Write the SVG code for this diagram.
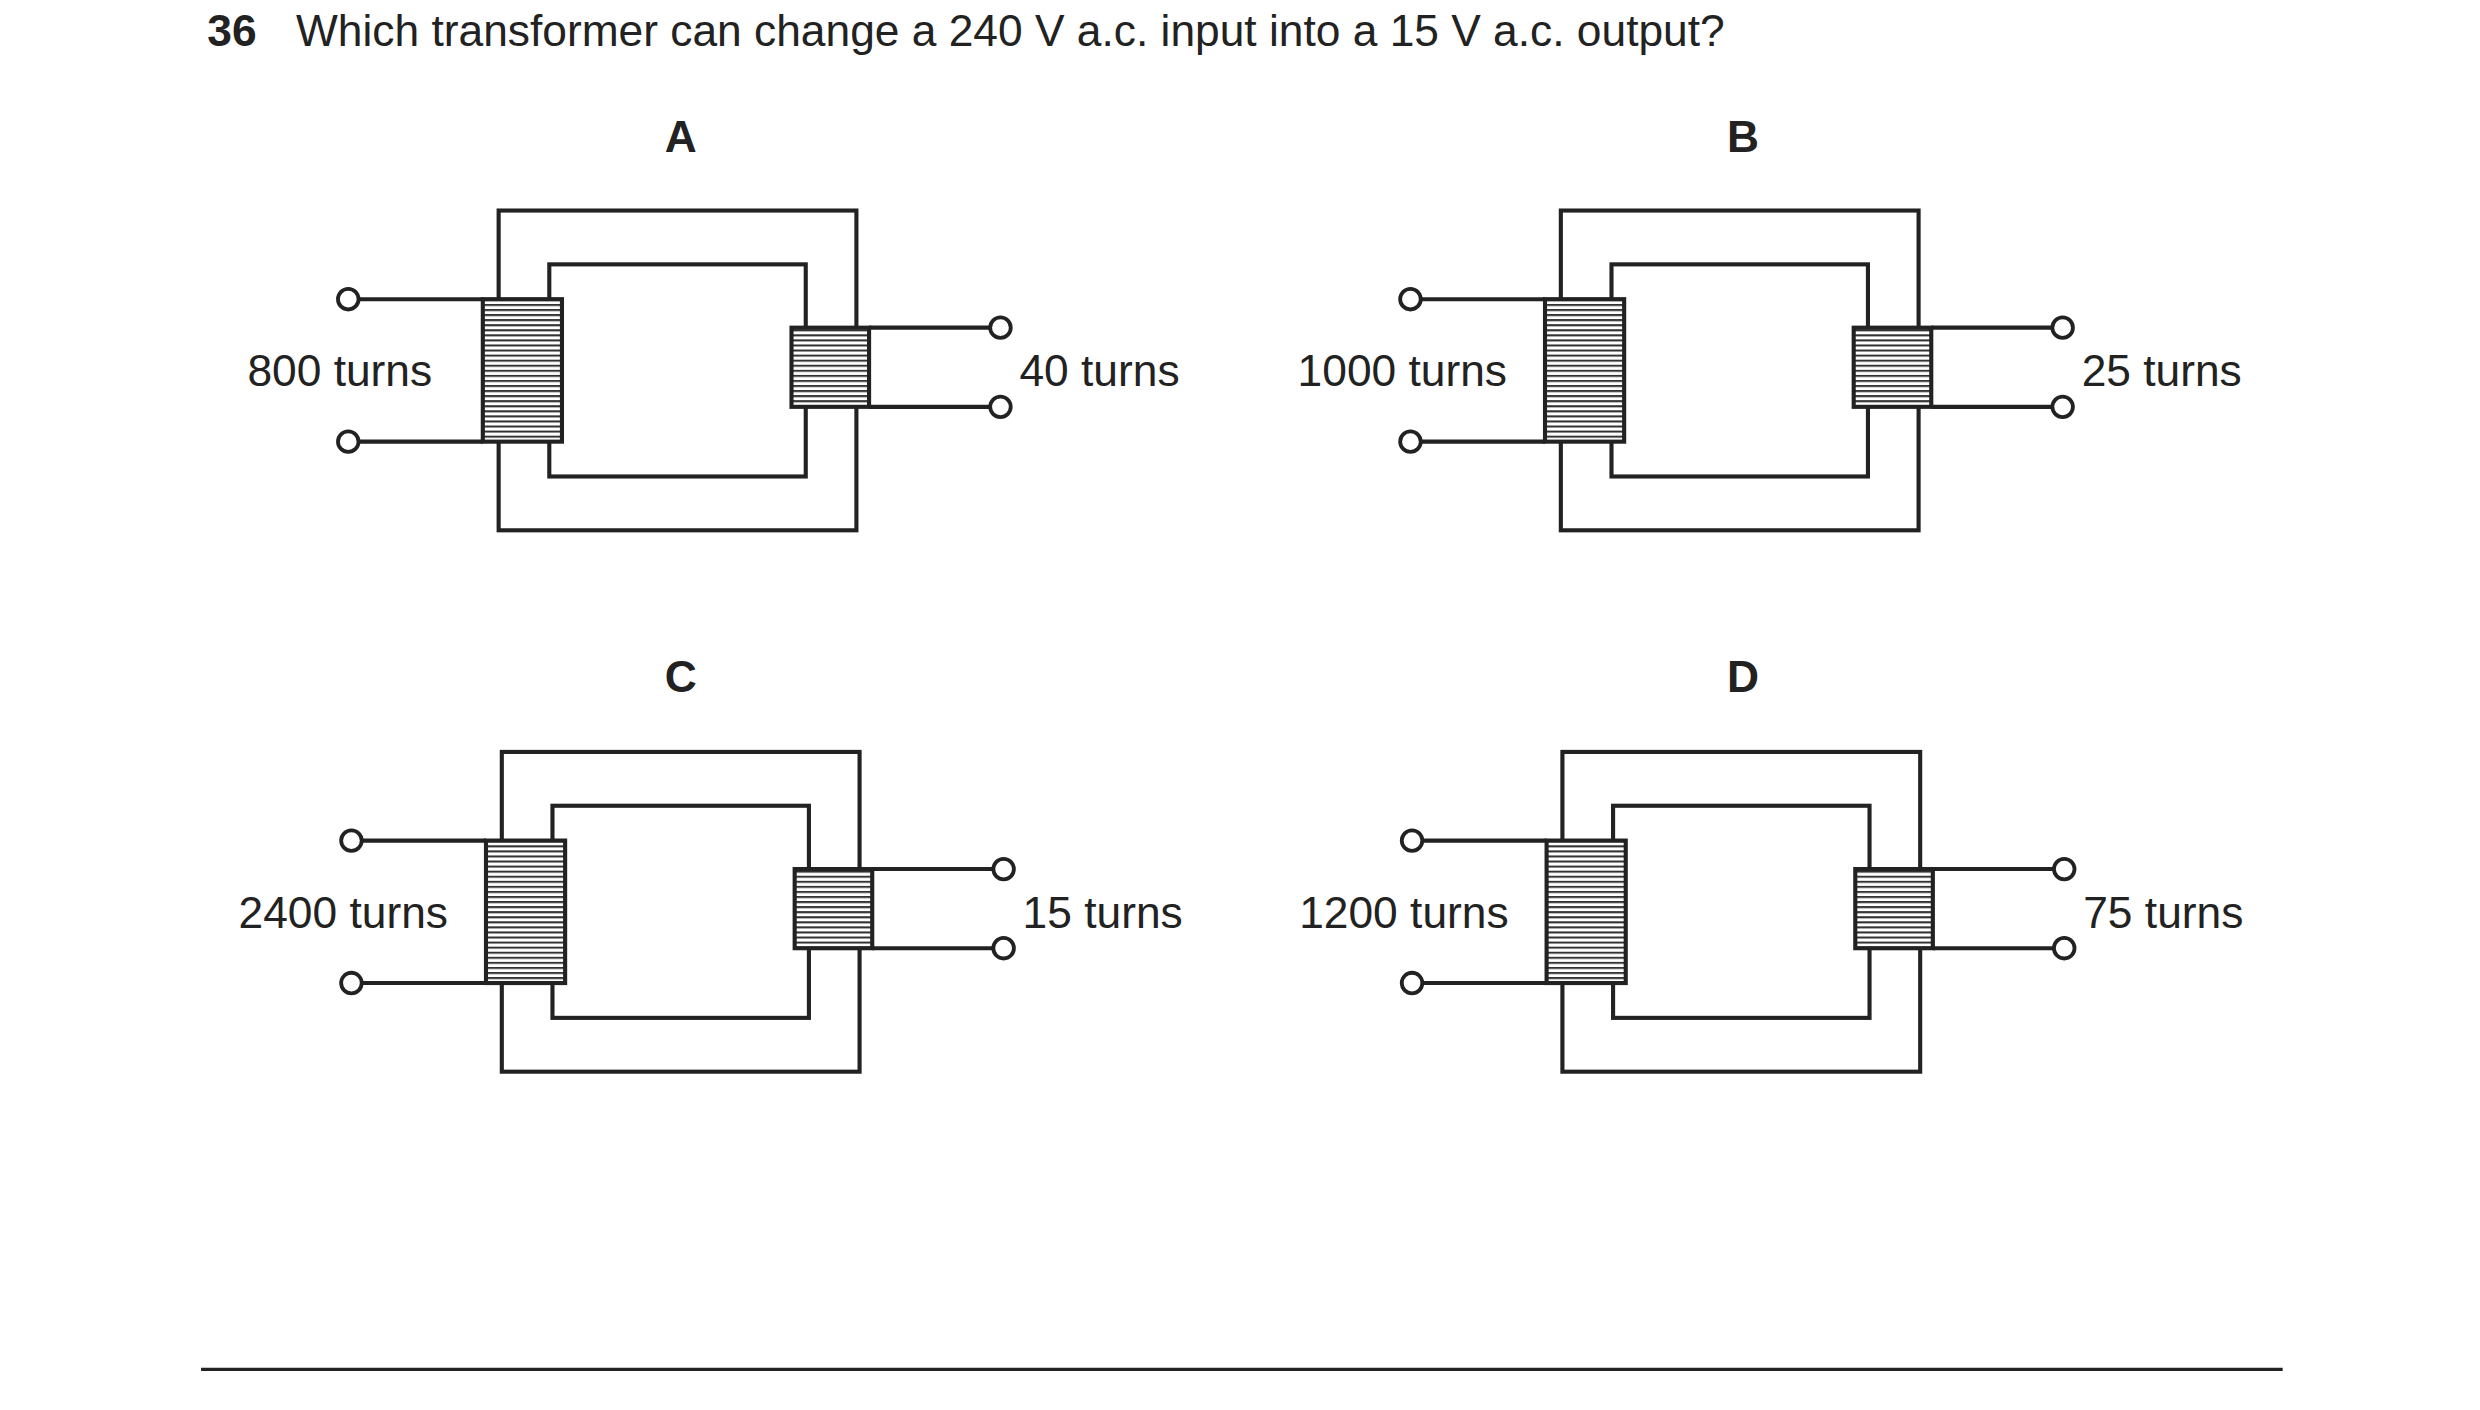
<svg xmlns="http://www.w3.org/2000/svg" width="2480" height="1410" viewBox="0 0 2480 1410">
<style>
.t{font-family:"Liberation Sans",Arial,sans-serif;font-size:28px;fill:#222}
.b{font-weight:bold}
.ln{stroke:#222;stroke-width:2.6;fill:none}
.term{stroke:#222;stroke-width:2.4;fill:#fff}
</style>
<defs>
<pattern id="hatch" width="6" height="3.2" patternUnits="userSpaceOnUse">
<rect x="0" y="0" width="6" height="1.3" fill="#333"/>
</pattern>
<g id="xf">
<rect class="ln" x="315" y="133" width="226" height="202"/>
<rect class="ln" x="347" y="167" width="162" height="134"/>
<g class="wire">
<line class="ln" x1="226" y1="189" x2="305" y2="189"/>
<line class="ln" x1="226" y1="279" x2="305" y2="279"/>
<line class="ln" x1="549" y1="207" x2="626" y2="207"/>
<line class="ln" x1="549" y1="257" x2="626" y2="257"/>
<circle class="term" cx="220" cy="189" r="6.5"/>
<circle class="term" cx="220" cy="279" r="6.5"/>
<circle class="term" cx="632" cy="207" r="6.5"/>
<circle class="term" cx="632" cy="257" r="6.5"/>
</g>
<rect x="305" y="189" width="50" height="90" fill="#fff"/>
<rect x="305" y="189" width="50" height="90" fill="url(#hatch)" stroke="#222" stroke-width="2.6"/>
<rect x="500" y="207" width="49" height="50" fill="#fff"/>
<rect x="500" y="207" width="49" height="50" fill="url(#hatch)" stroke="#222" stroke-width="2.6"/>
</g>
</defs>
<rect width="2480" height="1410" fill="#fff"/>
<g transform="scale(1.583)">
<g id="title">
<text class="t b" x="131" y="29">36</text>
<text class="t" x="187" y="29">Which transformer can change a 240 V a.c. input into a 15 V a.c. output?</text>
</g>
<g id="nodeA">
<text class="t b" x="430" y="96" text-anchor="middle">A</text>
<use href="#xf"/>
<text class="t" x="273" y="244" text-anchor="end">800 turns</text>
<text class="t" x="644" y="244">40 turns</text>
</g>
<g id="nodeB">
<text class="t b" x="1101" y="96" text-anchor="middle">B</text>
<use href="#xf" transform="translate(671,0)"/>
<text class="t" x="952" y="244" text-anchor="end">1000 turns</text>
<text class="t" x="1315" y="244">25 turns</text>
</g>
<g id="nodeC">
<text class="t b" x="430" y="437" text-anchor="middle">C</text>
<use href="#xf" transform="translate(2,342)"/>
<text class="t" x="283" y="586" text-anchor="end">2400 turns</text>
<text class="t" x="646" y="586">15 turns</text>
</g>
<g id="nodeD">
<text class="t b" x="1101" y="437" text-anchor="middle">D</text>
<use href="#xf" transform="translate(672,342)"/>
<text class="t" x="953" y="586" text-anchor="end">1200 turns</text>
<text class="t" x="1316" y="586">75 turns</text>
</g>
<g id="connectors">
<line x1="127" y1="865" x2="1442" y2="865" stroke="#222" stroke-width="2"/>
</g>
</g>
</svg>
